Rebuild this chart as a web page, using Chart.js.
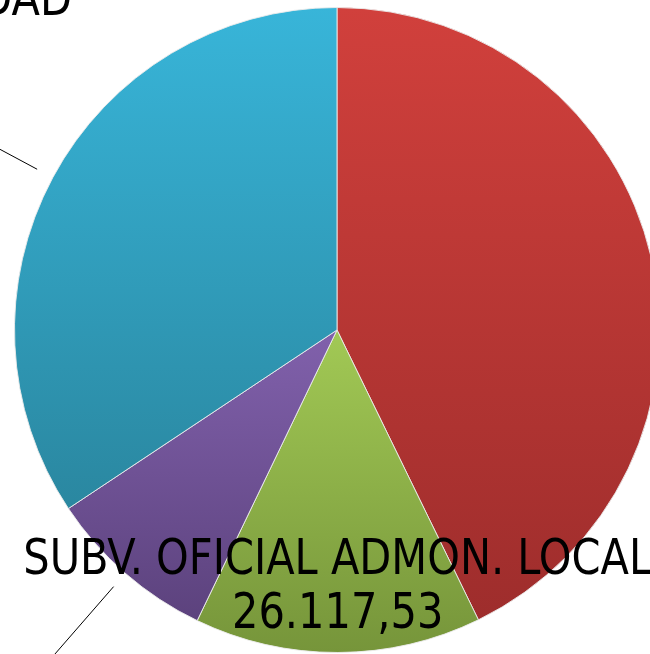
<!DOCTYPE html>
<html>
<head>
<meta charset="utf-8">
<script src="https://cdn.jsdelivr.net/npm/chart.js@4.4.1/dist/chart.umd.min.js"></script>
<style>
html,body{margin:0;padding:0;overflow:hidden;background:#ffffff;width:650px;height:654px;}
#wrap{position:absolute;left:0;top:0;width:674px;height:654px;}
</style>
</head>
<body>
<div id="wrap"><canvas id="c" width="674" height="654"></canvas></div>
<script>
// ---- data ----
const categories = ["SUBV. OFICIAL ESTADO", "SUBV. OFICIAL ADMON. LOCAL", "OTROS INGRESOS", "SUBV. OFICIAL COMUNIDAD"];
const values = [77800, 26117.53, 15510, 62450];
const colorsTop = ["#D1403C", "#A2C955", "#8161AC", "#38B5D9"];
const colorsBottom = ["#9E2D2C", "#76953A", "#5C427D", "#2A87A0"];
const showLabel = [false, true, false, true];
const showValue = [false, true, false, false];
const showLeader = [false, false, true, true];

function fmtES(v) {
  const parts = v.toFixed(2).split(".");
  parts[0] = parts[0].replace(/\B(?=(\d{3})+(?!\d))/g, ".");
  return parts[0] + "," + parts[1];
}

const BORDER = 1;

function sliceGradient(ctx) {
  const chart = ctx.chart;
  const ca = chart.chartArea;
  const i = ctx.dataIndex;
  if (!ca || i === undefined) return colorsTop[i || 0];
  const cx = (ca.left + ca.right) / 2, cy = (ca.top + ca.bottom) / 2;
  const r = (Math.min(ca.right - ca.left, ca.bottom - ca.top) - BORDER) / 2;
  const total = values.reduce((a, b) => a + b, 0);
  let acc = 0;
  for (let k = 0; k < i; k++) acc += values[k];
  const a0 = -Math.PI / 2 + 2 * Math.PI * acc / total;
  const a1 = a0 + 2 * Math.PI * values[i] / total;
  let ys = [cy, cy + r * Math.sin(a0), cy + r * Math.sin(a1)];
  for (let k = -2; k <= 2; k++) {
    const t = Math.PI / 2 + k * 2 * Math.PI, b = -Math.PI / 2 + k * 2 * Math.PI;
    if (t >= a0 && t <= a1) ys.push(cy + r);
    if (b >= a0 && b <= a1) ys.push(cy - r);
  }
  const y0 = Math.min(...ys), y1 = Math.max(...ys);
  const g = chart.ctx.createLinearGradient(0, y0, 0, y1);
  g.addColorStop(0, colorsTop[i]);
  g.addColorStop(1, colorsBottom[i]);
  return g;
}

const FONT_FAMILY = "'Liberation Sans Narrow','DejaVu Sans Condensed','Liberation Sans',sans-serif";
const FONT_SIZE = 49;

const labelPlugin = {
  id: "sliceLabels",
  afterDatasetsDraw(chart) {
    const ctx = chart.ctx;
    const meta = chart.getDatasetMeta(0);
    ctx.save();
    ctx.font = FONT_SIZE + "px " + FONT_FAMILY;
    // horizontal scale derived from longest label against pie size
    const r0 = meta.data[0].outerRadius;
    const refW = ctx.measureText(categories[1]).width;
    const sx = (1.95 * r0) / refW;

    meta.data.forEach((arc, i) => {
      const {x, y, outerRadius: r, startAngle, endAngle} = arc.getProps(["x", "y", "outerRadius", "startAngle", "endAngle"], true);
      const mid = (startAngle + endAngle) / 2;
      const dx = Math.cos(mid), dy = Math.sin(mid);
      if (showLeader[i]) {
        ctx.beginPath();
        ctx.strokeStyle = "#000000";
        ctx.lineWidth = 1;
        ctx.moveTo(x + dx * r * 1.055, y + dy * r * 1.055);
        ctx.lineTo(x + dx * r * 1.6, y + dy * r * 1.6);
        ctx.stroke();
      }
      if (!showLabel[i]) return;
      ctx.fillStyle = "#000000";
      ctx.textBaseline = "alphabetic";
      if (i === 1) {
        const ax = x + dx * r * 0.79, ay = y + dy * r * 0.79;
        const lines = [categories[i]];
        if (showValue[i]) lines.push(fmtES(values[i]));
        lines.forEach((t, k) => {
          ctx.save();
          ctx.translate(ax, ay - 11 + k * 54);
          ctx.scale(sx, 1);
          ctx.textAlign = "center";
          ctx.fillText(t, 0, 0);
          ctx.restore();
        });
      } else {
        const ax = x - 0.822 * r, ay = y - 0.977 * r;
        ctx.save();
        ctx.translate(ax, ay);
        ctx.scale(sx, 1);
        ctx.textAlign = "right";
        ctx.fillText(categories[i], 0, 0);
        ctx.restore();
      }
    });
    ctx.restore();
  }
};

new Chart(document.getElementById("c"), {
  type: "pie",
  data: {
    labels: categories,
    datasets: [{
      data: values,
      backgroundColor: sliceGradient,
      borderColor: "rgba(235,235,235,0.9)",
      borderWidth: BORDER
    }]
  },
  options: {
    responsive: false,
    animation: false,
    layout: {padding: {top: 7, bottom: 1, left: 0, right: 0}},
    plugins: {legend: {display: false}, tooltip: {enabled: false}}
  },
  plugins: [labelPlugin]
});
</script>
</body>
</html>
